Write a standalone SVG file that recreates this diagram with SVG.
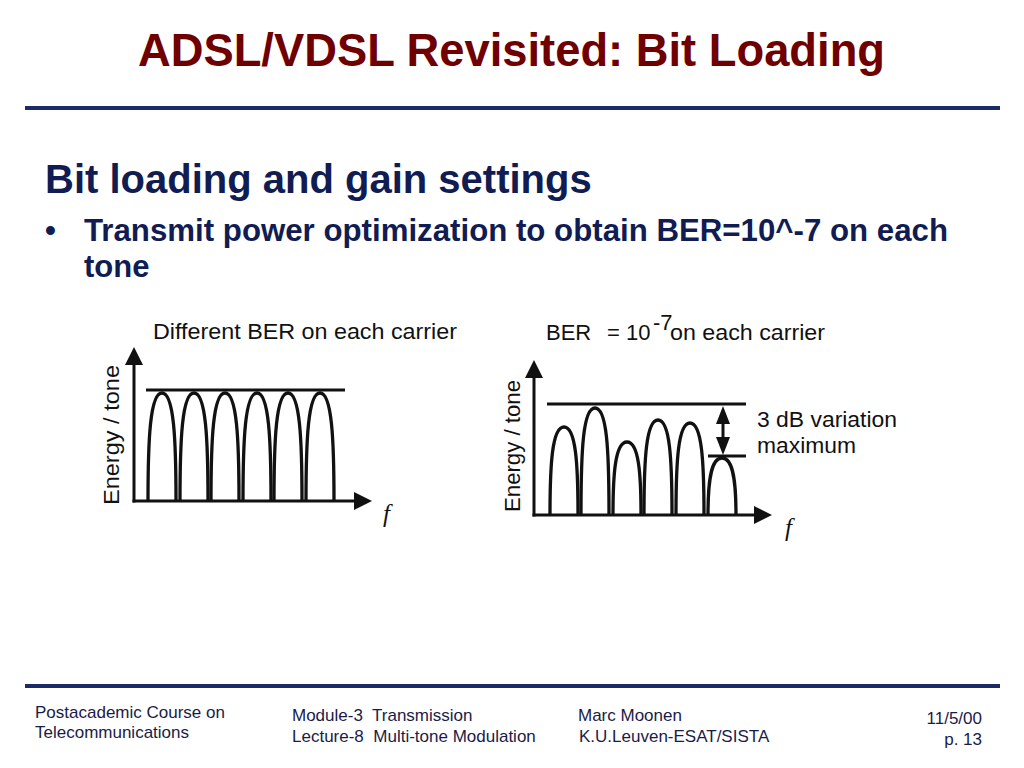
<svg xmlns="http://www.w3.org/2000/svg" width="1024" height="768" viewBox="0 0 1024 768">
<style>
.title{font-family:"Liberation Sans",Arial,sans-serif;font-weight:bold;font-size:46px;fill:#700000}
.head{font-family:"Liberation Sans",Arial,sans-serif;font-weight:bold;fill:#101c52}
.foot{font-family:"Liberation Sans",Arial,sans-serif;font-size:17px;fill:#1a1c48}
.rule{stroke:#1c2b66;stroke-width:4}
.fig{font-family:"Liberation Sans",Arial,sans-serif;font-size:22px;fill:#111}
.fvar{font-family:"Liberation Serif","Times New Roman",serif;font-style:italic;font-size:25px;fill:#111}
.ln{stroke:#111;stroke-width:3;fill:none}
.arch{stroke:#111;stroke-width:3.3;fill:none}
.ah{fill:#111}
</style>
<defs>
<marker id="arr" markerUnits="userSpaceOnUse" viewBox="0 0 18 18" refX="0" refY="9" markerWidth="18" markerHeight="18" orient="auto">
<path d="M0,0 L18,9 L0,18 z" class="ah"/>
</marker>
<marker id="arrs" markerUnits="userSpaceOnUse" viewBox="0 0 18 14" refX="0" refY="7" markerWidth="18" markerHeight="14" orient="auto">
<path d="M0,0 L18,7 L0,14 z" class="ah"/>
</marker>
</defs>

<g id="header">
<text class="title" x="138" y="66" textLength="747" lengthAdjust="spacingAndGlyphs">ADSL/VDSL Revisited: Bit Loading</text>
<line class="rule" x1="25" y1="108" x2="1000" y2="108"/>
<text class="head" x="45" y="193" font-size="40">Bit loading and gain settings</text>
<text class="head" x="45" y="241" font-size="31">•</text>
<text class="head" x="84" y="241" font-size="31" textLength="864" lengthAdjust="spacingAndGlyphs">Transmit power optimization to obtain BER=10^-7 on each</text>
<text class="head" x="84" y="277" font-size="31">tone</text>
</g>

<g id="figure-left">
<text class="fig" x="153" y="339" textLength="304" lengthAdjust="spacingAndGlyphs">Different BER on each carrier</text>
<text class="fig" x="119" y="505" transform="rotate(-90 119 505)" textLength="140" lengthAdjust="spacingAndGlyphs">Energy / tone</text>
<text class="fvar" x="383" y="522">f</text>
<line class="ln" x1="146" y1="390" x2="345" y2="390"/>
<g id="left-arches">
<path class="arch" d="M148,501 C148,440 150,393 162,393 C174,393 176,440 176,501"/>
<path class="arch" d="M180,501 C180,440 182,393 194,393 C206,393 208,440 208,501"/>
<path class="arch" d="M211,501 C211,440 213,393 225,393 C237,393 239,440 239,501"/>
<path class="arch" d="M243,501 C243,440 245,393 257,393 C269,393 271,440 271,501"/>
<path class="arch" d="M274,501 C274,440 276,393 288,393 C300,393 302,440 302,501"/>
<path class="arch" d="M306,501 C306,440 308,393 320,393 C332,393 334,440 334,501"/>
</g>
</g>

<g id="figure-right">
<text class="fig" x="546" y="340">BER</text>
<text class="fig" x="607" y="340">= 10</text>
<text class="fig" x="653" y="330" font-size="12">-7</text>
<text class="fig" x="670" y="340" textLength="155" lengthAdjust="spacingAndGlyphs">on each carrier</text>
<text class="fig" x="520" y="512" transform="rotate(-90 520 512)" textLength="132" lengthAdjust="spacingAndGlyphs">Energy / tone</text>
<text class="fvar" x="785" y="536">f</text>
<line class="ln" x1="547" y1="404" x2="746" y2="404"/>
<line class="ln" x1="708" y1="456" x2="746" y2="456"/>
<text class="fig" x="757" y="427" textLength="140" lengthAdjust="spacingAndGlyphs">3 dB variation</text>
<text class="fig" x="757" y="453" textLength="99" lengthAdjust="spacingAndGlyphs">maximum</text>
<g id="right-arches">
<path class="arch" d="M550,515 C550,465 552,427 564,427 C576,427 578,465 578,515"/>
<path class="arch" d="M581,515 C581,450 583,408 595,408 C607,408 609,450 609,515"/>
<path class="arch" d="M613,515 C613,475 615,442 627,442 C639,442 641,475 641,515"/>
<path class="arch" d="M644,515 C644,460 646,420 658,420 C670,420 672,460 672,515"/>
<path class="arch" d="M676,515 C676,462 678,423 690,423 C702,423 704,462 704,515"/>
<path class="arch" d="M708,515 C708,485 710,458 722,458 C734,458 736,485 736,515"/>
</g>
</g>

<g id="connectors">
<line class="ln" x1="134" y1="502.5" x2="134" y2="365" marker-end="url(#arr)"/>
<line class="ln" x1="132.5" y1="501" x2="354" y2="501" marker-end="url(#arr)"/>
<line class="ln" x1="534" y1="516.5" x2="534" y2="378" marker-end="url(#arr)"/>
<line class="ln" x1="532.5" y1="515" x2="754" y2="515" marker-end="url(#arr)"/>
<line class="ln" x1="723" y1="430" x2="723" y2="424" marker-end="url(#arrs)"/>
<line class="ln" x1="723" y1="430" x2="723" y2="437" marker-end="url(#arrs)"/>
</g>

<g id="footer">
<line class="rule" x1="25" y1="686" x2="1000" y2="686"/>
<text class="foot" x="35" y="718">Postacademic Course on</text>
<text class="foot" x="35" y="738">Telecommunications</text>
<text class="foot" x="292" y="721" xml:space="preserve">Module-3  Transmission</text>
<text class="foot" x="292" y="742" xml:space="preserve">Lecture-8  Multi-tone Modulation</text>
<text class="foot" x="578" y="721">Marc Moonen</text>
<text class="foot" x="579" y="742">K.U.Leuven-ESAT/SISTA</text>
<text class="foot" x="982" y="724" text-anchor="end">11/5/00</text>
<text class="foot" x="982" y="745" text-anchor="end">p. 13</text>
</g>
</svg>
